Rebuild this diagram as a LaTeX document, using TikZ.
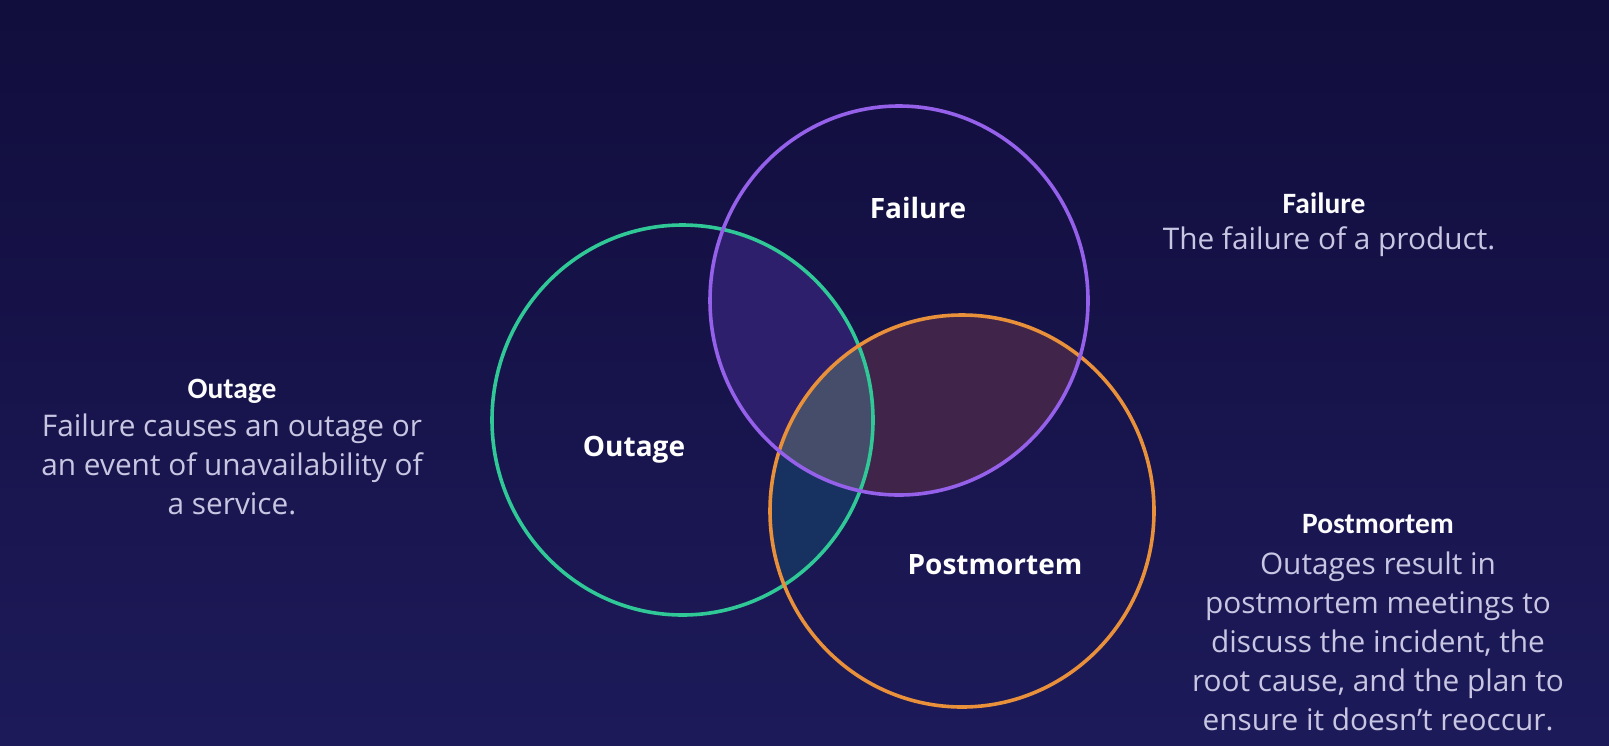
\documentclass[tikz,border=0pt]{standalone}
\usepackage{fontspec}
\setmainfont{Open Sans}
\newfontfamily\hdrfont{Carlito}
\definecolor{bgtop}{HTML}{110D3C}
\definecolor{bgbot}{HTML}{1D1A5A}
\definecolor{cfail}{HTML}{9560EA}
\definecolor{cout}{HTML}{2FC896}
\definecolor{cpost}{HTML}{E8903A}
\definecolor{fo}{HTML}{2E1F6C}
\definecolor{fp}{HTML}{412449}
\definecolor{op}{HTML}{173260}
\definecolor{fop}{HTML}{454D6A}
\definecolor{desc}{HTML}{C8C6E2}
\tikzset{
  ring/.style={line width=3.6pt},
  inlabel/.style={text=white, font=\fontsize{28}{34}\selectfont\bfseries, inner sep=0pt},
  sidehead/.style={text=white!95!desc, font=\hdrfont\fontsize{29.5}{32}\selectfont\bfseries, inner sep=0pt},
  sidedesc/.style={text=desc, font=\fontsize{29.8}{39}\selectfont, align=center, inner sep=0pt},
}
\begin{document}
\begin{tikzpicture}[x=1pt,y=-1pt]
\useasboundingbox (0,0) rectangle (1609,745);
\shade[top color=bgtop, bottom color=bgbot] (0,0) rectangle (1609,745);
\def\Fpath{(899,300.5) ellipse [x radius=189, y radius=194.5]}
\def\Opath{(682.5,420) ellipse [x radius=190.5, y radius=195]}
\def\Ppath{(962,511) ellipse [x radius=192, y radius=196]}
% pairwise intersections
\begin{scope}\clip \Fpath; \fill[fo] \Opath; \end{scope}
\begin{scope}\clip \Fpath; \fill[fp] \Ppath; \end{scope}
\begin{scope}\clip \Opath; \fill[op] \Ppath; \end{scope}
\begin{scope}\clip \Fpath; \clip \Opath; \fill[fop] \Ppath; \end{scope}
% rings
\draw[ring, cout] \Opath;
\draw[ring, cpost] \Ppath;
\draw[ring, cfail] \Fpath;
% inside labels
\node[inlabel] (lf) at (918,208) {Failure};
\node[inlabel] (lo) at (634,450) {Outage};
\node[inlabel] (lp) at (995,565) {Postmortem};
% side texts
\node[sidehead] (hf) at (1324,203) {Failure};
\node[sidedesc] (df) at (1329,242) {The failure of a product.};
\node[sidehead] (ho) at (232,391) {Outage};
\node[sidedesc] (do) at (232,464) {Failure causes an outage or\\an event of unavailability of\\a service.};
\node[sidehead] (hp) at (1378,524) {Postmortem};
\node[sidedesc] (dp) at (1378,641) {Outages result in\\postmortem meetings to\\discuss the incident, the\\root cause, and the plan to\\ensure it doesn’t reoccur.};
\end{tikzpicture}
\end{document}
